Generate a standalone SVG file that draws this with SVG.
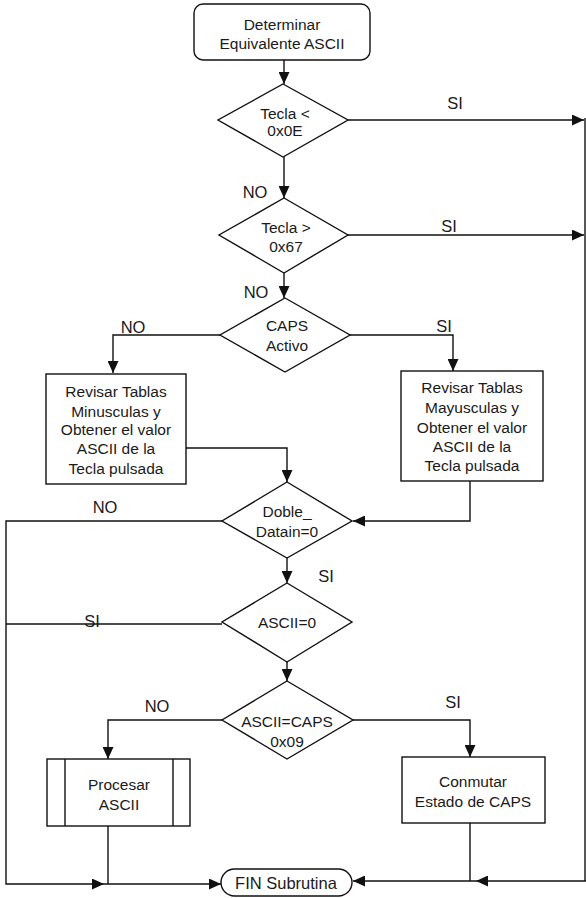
<svg xmlns="http://www.w3.org/2000/svg" width="586" height="898" viewBox="0 0 586 898">
<style>
.s{fill:#fff;stroke:#111;stroke-width:1.4}
.c{fill:none;stroke:#111;stroke-width:1.4}
text{font-family:"Liberation Sans",Arial,sans-serif;fill:#1a1a1a;text-anchor:middle}
.t{font-size:15.5px}
.l{font-size:16.5px}
</style>
<defs>
<marker id="a" markerUnits="userSpaceOnUse" markerWidth="13" markerHeight="11" refX="12" refY="5.5" orient="auto">
<path d="M0,0 L12,5.5 L0,11 z" fill="#111"/>
</marker>
</defs>
<rect width="586" height="898" fill="#fff"/>
<g id="connectors">
<path class="c" d="M284,60 V84" marker-end="url(#a)"/>
<path class="c" d="M348,120 H584" marker-end="url(#a)"/>
<path class="c" d="M585,118 V881"/>
<path class="c" d="M284,157 V198" marker-end="url(#a)"/>
<path class="c" d="M348,235 H584" marker-end="url(#a)"/>
<path class="c" d="M284,273 V298" marker-end="url(#a)"/>
<path class="c" d="M220,335 H113 V373" marker-end="url(#a)"/>
<path class="c" d="M350,335 H453 V371" marker-end="url(#a)"/>
<path class="c" d="M186,448 H287 V482" marker-end="url(#a)"/>
<path class="c" d="M470,481 V521 H353" marker-end="url(#a)"/>
<path class="c" d="M222,521 H6 V884 H104" marker-end="url(#a)"/>
<path class="c" d="M104,884 H221" marker-end="url(#a)"/>
<path class="c" d="M287,558 V583" marker-end="url(#a)"/>
<path class="c" d="M222,624 H6"/>
<path class="c" d="M287,662 V681" marker-end="url(#a)"/>
<path class="c" d="M222,720 H108 V759" marker-end="url(#a)"/>
<path class="c" d="M108,826 V884"/>
<path class="c" d="M353,720 H470 V757" marker-end="url(#a)"/>
<path class="c" d="M470,823 V881"/>
<path class="c" d="M586,881 H476" marker-end="url(#a)"/>
<path class="c" d="M476,881 H353" marker-end="url(#a)"/>
<text class="l" x="455" y="109">SI</text>
<text class="l" x="255" y="198">NO</text>
<text class="l" x="449" y="232">SI</text>
<text class="l" x="256" y="298">NO</text>
<text class="l" x="133" y="333">NO</text>
<text class="l" x="444" y="332">SI</text>
<text class="l" x="105" y="513">NO</text>
<text class="l" x="326" y="582">SI</text>
<text class="l" x="92" y="627">SI</text>
<text class="l" x="157" y="712">NO</text>
<text class="l" x="453" y="708">SI</text>
</g>
<g id="n_inicio">
<rect class="s" x="194" y="4" width="176" height="56" rx="9"/>
<text class="t" x="282" y="30">Determinar</text>
<text class="t" x="282" y="49">Equivalente ASCII</text>
</g>
<g id="d_tecla_menor">
<polygon class="s" points="283,84 348,120 283,157 218,120"/>
<text class="t" x="285" y="119">Tecla &lt;</text>
<text class="t" x="285" y="136">0x0E</text>
</g>
<g id="d_tecla_mayor">
<polygon class="s" points="284,198 348,235 284,273 219,235"/>
<text class="t" x="286" y="233">Tecla &gt;</text>
<text class="t" x="286" y="252">0x67</text>
</g>
<g id="d_caps">
<polygon class="s" points="285,298 350,335 285,372 220,335"/>
<text class="t" x="287" y="331">CAPS</text>
<text class="t" x="287" y="351">Activo</text>
</g>
<g id="n_minusculas">
<rect class="s" x="46" y="374" width="140" height="110"/>
<text class="t" x="116" y="397">Revisar Tablas</text>
<text class="t" x="116" y="417">Minusculas y</text>
<text class="t" x="116" y="435">Obtener el valor</text>
<text class="t" x="116" y="454">ASCII de la</text>
<text class="t" x="116" y="474">Tecla pulsada</text>
</g>
<g id="n_mayusculas">
<rect class="s" x="401" y="371" width="142" height="110"/>
<text class="t" x="472" y="393">Revisar Tablas</text>
<text class="t" x="472" y="413">Mayusculas y</text>
<text class="t" x="472" y="433">Obtener el valor</text>
<text class="t" x="472" y="452">ASCII de la</text>
<text class="t" x="472" y="471">Tecla pulsada</text>
</g>
<g id="d_doble">
<polygon class="s" points="287,482 352,521 287,558 222,521"/>
<text class="t" x="287" y="517">Doble_</text>
<text class="t" x="287" y="537">Datain=0</text>
</g>
<g id="d_ascii0">
<polygon class="s" points="287,583 352,622 287,662 222,622"/>
<text class="t" x="287" y="628">ASCII=0</text>
</g>
<g id="d_asciicaps">
<polygon class="s" points="287,681 353,720 287,759 222,720"/>
<text class="t" x="287" y="727">ASCII=CAPS</text>
<text class="t" x="287" y="747">0x09</text>
</g>
<g id="n_procesar">
<rect class="s" x="47" y="759" width="143" height="67"/>
<path class="c" d="M65,759 V826 M173,759 V826"/>
<text class="t" x="119" y="790">Procesar</text>
<text class="t" x="119" y="810">ASCII</text>
</g>
<g id="n_conmutar">
<rect class="s" x="402" y="757" width="143" height="66"/>
<text class="t" x="473" y="787">Conmutar</text>
<text class="t" x="473" y="807">Estado de CAPS</text>
</g>
<g id="n_fin">
<rect class="s" x="221" y="869" width="131" height="27" rx="13.5"/>
<text class="l" x="286" y="889">FIN Subrutina</text>
</g>
</svg>
